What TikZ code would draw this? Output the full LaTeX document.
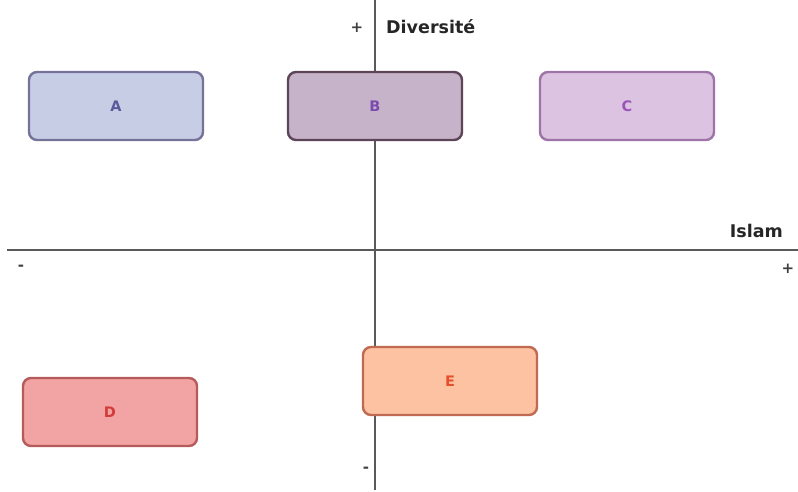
\documentclass[tikz,border=0pt]{standalone}
\usepackage{fontspec}
\setmainfont{DejaVu Sans}
\begin{document}
\begin{tikzpicture}[x=1pt,y=-1pt,
  axis/.style={draw=black!65, line width=1.6pt},
  axlabel/.style={font=\bfseries\fontsize{17.5}{20}\selectfont, text=black!85, inner sep=0pt},
  sign/.style={font=\bfseries\fontsize{15}{17}\selectfont, text=black!75, inner sep=0pt},
  box/.style={rounded corners=8pt, line width=2.4pt, minimum width=174pt, minimum height=68pt, inner sep=0pt, font=\bfseries\fontsize{14.5}{16}\selectfont},
]
\useasboundingbox (0,0) rectangle (798,492);
\coordinate (vt) at (375,0);
\coordinate (vb) at (375,490);
\coordinate (hl) at (7,250);
\coordinate (hr) at (798,250);
\draw[axis] (vt) -- (vb);
\draw[axis] (hl) -- (hr);
\node[sign] (ptop) at (357,28) {+};
\node[axlabel, anchor=west] (div) at (386,27) {Diversité};
\node[axlabel, anchor=east] (isl) at (783,231) {Islam};
\node[sign] (mleft) at (21,268) {-};
\node[sign] (pright) at (788,269) {+};
\node[sign] (mbot) at (366,470) {-};
\definecolor{afill}{HTML}{C8CDE6}\definecolor{adraw}{HTML}{75729A}\definecolor{atext}{HTML}{5A5A9A}
\definecolor{bfill}{HTML}{C6B3C9}\definecolor{bdraw}{HTML}{5E4458}\definecolor{btext}{HTML}{7A4CB0}
\definecolor{cfill}{HTML}{DCC3E2}\definecolor{cdraw}{HTML}{9E74A8}\definecolor{ctext}{HTML}{9A54B8}
\definecolor{dfill}{HTML}{F2A3A3}\definecolor{ddraw}{HTML}{B65A5A}\definecolor{dtext}{HTML}{D43A3A}
\definecolor{efill}{HTML}{FCC2A2}\definecolor{edraw}{HTML}{C06A52}\definecolor{etext}{HTML}{E4502E}
\node[box, fill=afill, draw=adraw, text=atext] (A) at (116,106) {A};
\node[box, fill=bfill, draw=bdraw, text=btext] (B) at (375,106) {B};
\node[box, fill=cfill, draw=cdraw, text=ctext] (C) at (627,106) {C};
\node[box, fill=dfill, draw=ddraw, text=dtext] (D) at (110,412) {D};
\node[box, fill=efill, draw=edraw, text=etext] (E) at (450,381) {E};
\end{tikzpicture}
\end{document}
